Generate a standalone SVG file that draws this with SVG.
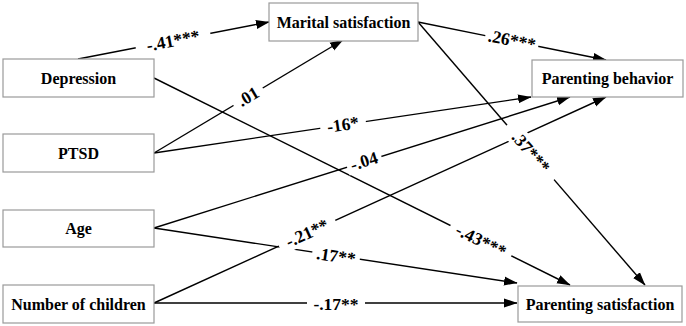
<svg xmlns="http://www.w3.org/2000/svg" width="686" height="326" viewBox="0 0 686 326">
<defs>
<marker id="ah" markerUnits="userSpaceOnUse" markerWidth="14" markerHeight="10" viewBox="0 0 14 10" refX="13" refY="5" orient="auto">
<path d="M0,0.5 L13.5,5 L0,9.5 z" fill="#000"/>
</marker>
<style>
.box{fill:#fff;stroke:#9a9a9a;stroke-width:1.2}
.nt{font-family:'Liberation Serif','Times New Roman','DejaVu Serif',serif;font-weight:bold;font-size:16px;text-anchor:middle;fill:#000}
.ln{stroke:#000;stroke-width:1.4;fill:none;marker-end:url(#ah)}
.lb{font-family:'Liberation Serif','Times New Roman','DejaVu Serif',serif;font-weight:bold;font-size:17.5px;text-anchor:middle;fill:#000}
.gap{fill:#fff}
</style>
</defs>
<rect width="686" height="326" fill="#fff"/>
<g id="connectors">
<line class="ln" x1="78" y1="59" x2="269" y2="22"/>
<line class="ln" x1="154" y1="78" x2="570" y2="285"/>
<line class="ln" x1="154" y1="153" x2="343" y2="40"/>
<line class="ln" x1="154" y1="153" x2="531" y2="97"/>
<line class="ln" x1="154" y1="228" x2="570" y2="97"/>
<line class="ln" x1="154" y1="303" x2="606" y2="97"/>
<line class="ln" x1="154" y1="228" x2="517" y2="283"/>
<line class="ln" x1="154" y1="303" x2="517" y2="303"/>
<line class="ln" x1="418" y1="22" x2="606" y2="60"/>
<line class="ln" x1="418" y1="22" x2="645" y2="285"/>
</g>
<g id="labels">
<g transform="translate(173,40.5) rotate(-11)"><rect class="gap" x="-38" y="-9" width="76" height="18"/><text class="lb" font-family="Liberation Serif, serif" y="6">-.41***</text></g>
<g transform="translate(248,96.5) rotate(-31)"><rect class="gap" x="-17" y="-9" width="34" height="18"/><text class="lb" font-family="Liberation Serif, serif" y="6">.01</text></g>
<g transform="translate(343,124.5) rotate(-8.4)"><rect class="gap" x="-23" y="-9" width="46" height="18"/><text class="lb" font-family="Liberation Serif, serif" y="6">-16*</text></g>
<g transform="translate(364,161) rotate(-17.5)"><rect class="gap" x="-18" y="-9.5" width="36" height="19"/><text class="lb" font-family="Liberation Serif, serif" y="6">-.04</text></g>
<g transform="translate(307,233) rotate(-24.5)"><rect class="gap" x="-31" y="-10" width="62" height="20"/><text class="lb" font-family="Liberation Serif, serif" y="6">-.21**</text></g>
<g transform="translate(336,256) rotate(8.6)"><rect class="gap" x="-24" y="-8" width="48" height="16"/><text class="lb" font-family="Liberation Serif, serif" y="6">.17**</text></g>
<g transform="translate(336,304)"><rect class="gap" x="-29" y="-9" width="58" height="18"/><text class="lb" font-family="Liberation Serif, serif" y="6">-.17**</text></g>
<g transform="translate(481,240.5) rotate(26.5)"><rect class="gap" x="-34" y="-9" width="68" height="18"/><text class="lb" font-family="Liberation Serif, serif" y="6">-.43***</text></g>
<g transform="translate(512,40) rotate(11.4)"><rect class="gap" x="-27" y="-9" width="54" height="18"/><text class="lb" font-family="Liberation Serif, serif" y="6">.26***</text></g>
<g transform="translate(531,152) rotate(49.2)"><rect class="gap" x="-36" y="-10" width="72" height="20"/><text class="lb" font-family="Liberation Serif, serif" y="6">.37***</text></g>
</g>
<g id="depression"><rect class="box" x="3" y="59" width="151" height="38"/><text class="nt" font-family="Liberation Serif, serif" x="78.5" y="83.5">Depression</text></g>
<g id="ptsd"><rect class="box" x="3" y="134" width="151" height="38"/><text class="nt" font-family="Liberation Serif, serif" x="78.5" y="158.5">PTSD</text></g>
<g id="age"><rect class="box" x="3" y="210" width="151" height="37"/><text class="nt" font-family="Liberation Serif, serif" x="78.5" y="234">Age</text></g>
<g id="children"><rect class="box" x="3" y="285" width="151" height="38"/><text class="nt" font-family="Liberation Serif, serif" x="78.5" y="309.5">Number of children</text></g>
<g id="marital"><rect class="box" x="269" y="3" width="149" height="38"/><text class="nt" font-family="Liberation Serif, serif" x="343.5" y="27.5">Marital satisfaction</text></g>
<g id="behavior"><rect class="box" x="532" y="60" width="151" height="37"/><text class="nt" font-family="Liberation Serif, serif" x="607.5" y="84">Parenting behavior</text></g>
<g id="satisfaction"><rect class="box" x="518" y="286" width="164" height="36"/><text class="nt" font-family="Liberation Serif, serif" x="600" y="309.5">Parenting satisfaction</text></g>
</svg>
